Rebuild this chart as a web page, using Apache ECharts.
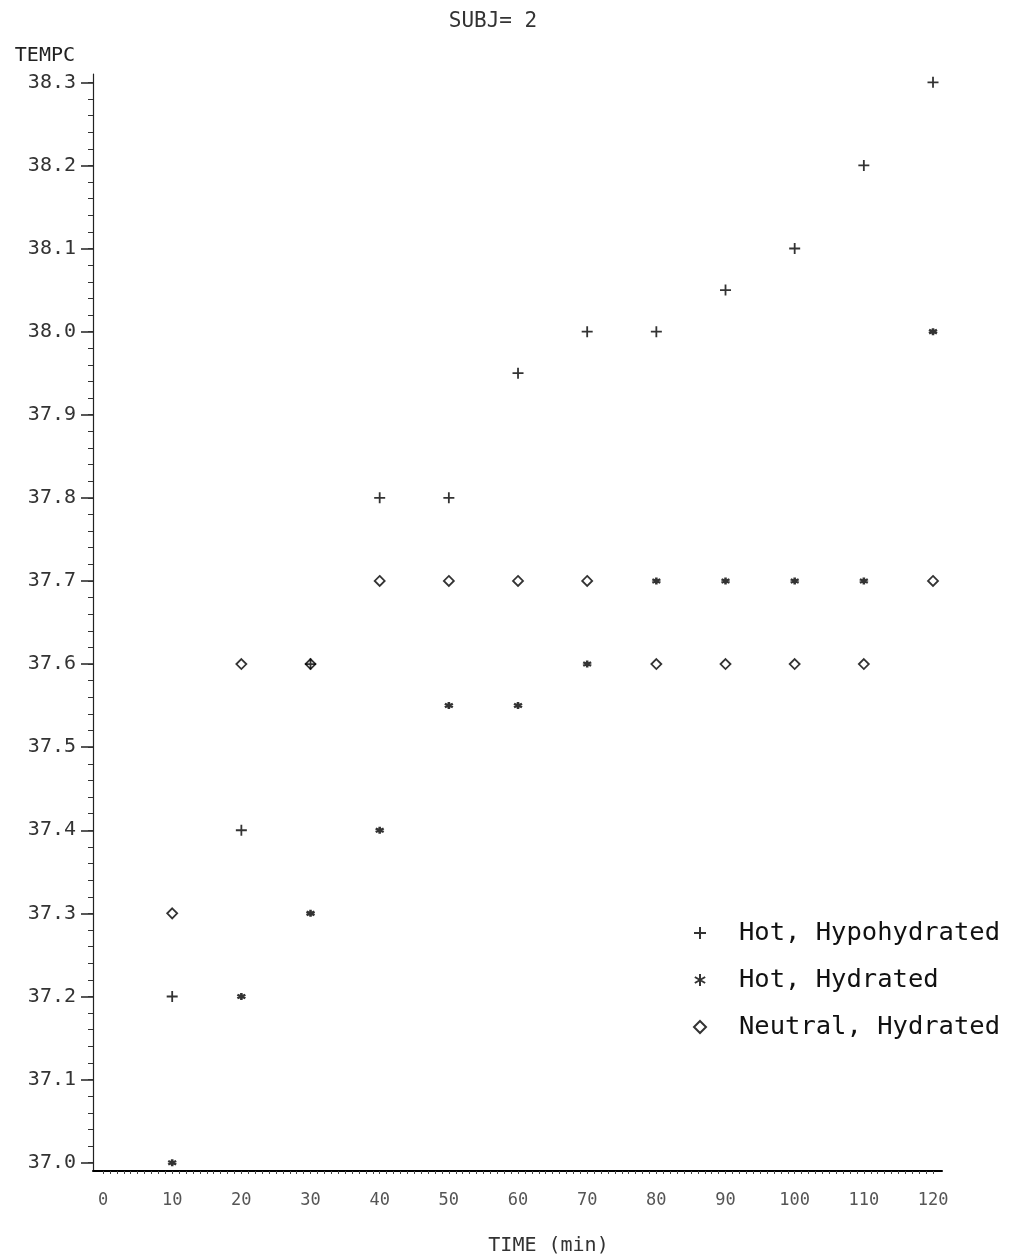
<!DOCTYPE html>
<html>
<head>
<meta charset="utf-8">
<script src="https://cdn.jsdelivr.net/npm/echarts@6/dist/echarts.min.js"></script>
<style>
html,body{margin:0;padding:0;background:#fff;}
#chart{width:1016px;height:1259px;}
</style>
</head>
<body>
<div id="chart"></div>
<script>
// ---- data ----
var times = [10, 20, 30, 40, 50, 60, 70, 80, 90, 100, 110, 120];
var hotHypohydrated = [37.2, 37.4, 37.6, 37.8, 37.8, 37.95, 38.0, 38.0, 38.05, 38.1, 38.2, 38.3];
var hotHydrated = [37.0, 37.2, 37.3, 37.4, 37.55, 37.55, 37.6, 37.7, 37.7, 37.7, 37.7, 38.0];
var neutralHydrated = [37.3, 37.6, 37.6, 37.7, 37.7, 37.7, 37.7, 37.6, 37.6, 37.6, 37.6, 37.7];
var xTickLabels = [0, 10, 20, 30, 40, 50, 60, 70, 80, 90, 100, 110, 120];
var yTickLabels = [37.0, 37.1, 37.2, 37.3, 37.4, 37.5, 37.6, 37.7, 37.8, 37.9, 38.0, 38.1, 38.2, 38.3];
var seriesNames = ['Hot, Hypohydrated', 'Hot, Hydrated', 'Neutral, Hydrated'];

function pairs(xs, ys) { return xs.map(function (x, i) { return [x, ys[i]]; }); }

// minor tick positions
var xMinor = [];
for (var i = 0; i <= 120; i++) xMinor.push(i);
var yMinor = [];
for (var j = 0; j <= 65; j++) yMinor.push(+(37 + j * 0.02).toFixed(2));

var PLUS = 'path://M0,5L10,5M5,0L5,10';
var STAR = 'path://M5,0L5,10M0.7,2.5L9.3,7.5M0.7,7.5L9.3,2.5';
var mono = 'DejaVu Sans Mono';

var chart = echarts.init(document.getElementById('chart'), null, {renderer: 'canvas'});
chart.setOption({
  animation: false,
  backgroundColor: '#fff',
  title: {
    text: 'SUBJ= 2',
    left: 488, top: 6, textAlign: 'center',
    textStyle: {fontFamily: mono, fontSize: 21, fontWeight: 'normal', color: '#333'}
  },
  grid: {left: 93, right: 74, top: 74, bottom: 88, containLabel: false, outerBoundsMode: 'none'},
  xAxis: [{
    type: 'value', min: -1.45, max: 121.3,
    name: 'TIME (min)', nameLocation: 'middle', nameGap: 65,
    nameTextStyle: {fontFamily: mono, fontSize: 20, color: '#333', padding: [0, 0, 0, 62]},
    axisLine: {show: true, onZero: false, lineStyle: {color: '#000', width: 2}},
    axisTick: {show: true, inside: false, length: 3, customValues: xMinor, lineStyle: {color: '#444', width: 1}},
    axisLabel: {customValues: xTickLabels, margin: 21, fontFamily: mono, fontSize: 17, color: '#555'},
    splitLine: {show: false}
  }],
  yAxis: [{
    type: 'value', min: 36.99, max: 38.31,
    name: 'TEMPC', nameLocation: 'end', nameGap: 8,
    nameTextStyle: {fontFamily: mono, fontSize: 20, color: '#222', align: 'right', padding: [0, 18, 0, 0]},
    axisLine: {show: true, onZero: false, lineStyle: {color: '#222', width: 1.2}},
    axisTick: {show: true, length: 12, customValues: yTickLabels, lineStyle: {color: '#222', width: 1.5}},
    axisLabel: {customValues: yTickLabels, margin: 17, fontFamily: mono, fontSize: 20, color: '#333',
      formatter: function (v) { return v.toFixed(1); }},
    splitLine: {show: false}
  }, {
    type: 'value', min: 36.99, max: 38.31, position: 'left',
    axisLine: {show: false, onZero: false},
    axisTick: {show: true, length: 5, customValues: yMinor, lineStyle: {color: '#333', width: 1}},
    axisLabel: {show: false},
    splitLine: {show: false}
  }],
  legend: {
    orient: 'vertical', left: 688, top: 915, itemGap: 21,
    itemWidth: 12, itemHeight: 12,
    textStyle: {fontFamily: mono, fontSize: 25.5, color: '#111', padding: [0, 0, 0, 28]},
    data: [
      {name: seriesNames[0], icon: PLUS},
      {name: seriesNames[1], icon: STAR},
      {name: seriesNames[2], icon: 'diamond'}
    ]
  },
  series: [{
    name: seriesNames[2], type: 'scatter', z: 2,
    data: pairs(times, neutralHydrated),
    symbol: 'diamond', symbolSize: [10, 10],
    itemStyle: {color: '#fff', borderColor: '#000', borderWidth: 1.8}
  }, {
    name: seriesNames[0], type: 'scatter', z: 3,
    data: pairs(times, hotHypohydrated),
    symbol: PLUS, symbolSize: [11, 11],
    itemStyle: {color: '#000', borderColor: '#000', borderWidth: 1.8}
  }, {
    name: seriesNames[1], type: 'scatter', z: 4,
    data: pairs(times, hotHydrated),
    symbol: STAR, symbolSize: [8, 7],
    itemStyle: {color: '#000', borderColor: '#000', borderWidth: 2.4}
  }]
});
</script>
</body>
</html>
